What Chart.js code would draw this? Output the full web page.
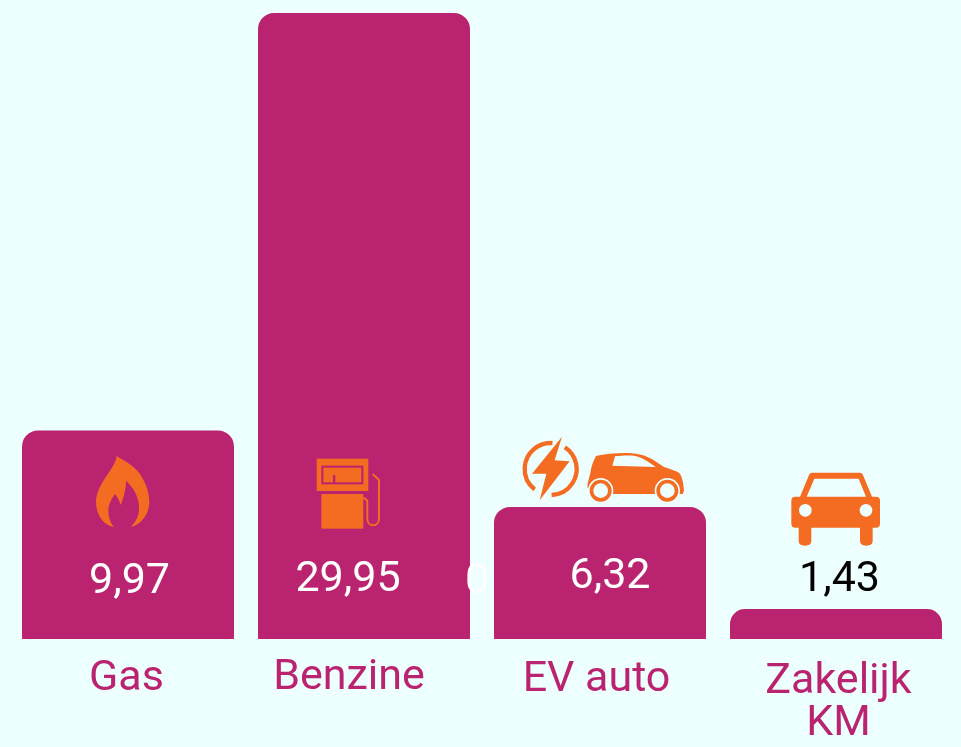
<!DOCTYPE html>
<html lang="nl">
<head>
    <meta charset="UTF-8">
    <title>Kosten per categorie</title>
    <script src="https://cdn.jsdelivr.net/npm/chart.js"></script>
    <style>
        html, body { margin: 0; padding: 0; background: #EEFFFF; overflow: hidden; }
        .chart-container { position: relative; width: 961px; height: 747px; }
    </style>
</head>
<body>
    <div class="chart-container">
        <canvas id="kosten-chart"></canvas>
    </div>

    <script>
        // data
        const categories = ['Gas', 'Benzine', 'EV auto', ['Zakelijk', 'KM']];
        const values = [9.97, 29.95, 6.32, 1.43];
        const strayLabel = '0';

        const pink = '#B9236F';
        const orange = '#F36C21';
        const pale = '#EEFFFF';
        const labelFont = '43px Roboto';

        // label placement, relative to bar centre and axis baseline
        const valueOffsets = [[1.5, -46], [-16, -48], [10, -51], [3.5, -48]];
        const valueColors = ['#FFFFFF', '#FFFFFF', '#FFFFFF', '#000000'];
        const tickOffsets = [[-1.5, 51], [-15, 50], [-3.5, 51.5], [2.5, 54]];
        const tickLineHeight = 42;

        // icons are drawn in 3x units, same as a zoomed crop of the picture
        function flame(ctx) {
            ctx.fillStyle = orange;
            ctx.fill(new Path2D('M80,18 C100,32 135,45 155,80 C170,105 178,130 178,155 C178,195 150,225 122,231 C142,212 150,190 146,160 C142,130 125,108 108,92 C108,120 100,145 92,165 C88,152 82,140 75,132 C62,150 55,165 55,180 C55,202 62,220 72,231 C40,225 18,195 18,155 C18,125 38,95 55,70 C68,50 78,35 80,18 Z'));
        }

        function pump(ctx) {
            ctx.fillStyle = orange;
            ctx.fillRect(20, 20, 155, 97);
            ctx.fillRect(34, 126, 126, 104);
            ctx.strokeStyle = pink;
            ctx.lineWidth = 6;
            ctx.strokeRect(37, 44, 120, 50);
            ctx.fillStyle = pink;
            ctx.fillRect(69, 69, 7, 26);
            ctx.strokeStyle = orange;
            ctx.lineWidth = 6;
            ctx.stroke(new Path2D('M188,66 L207,84 L207,200 C207,226 172,226 172,200 L172,152 C172,144 168,140 160,138'));
        }

        function bolt(ctx) {
            ctx.strokeStyle = orange;
            ctx.fillStyle = orange;
            ctx.lineWidth = 13;
            ctx.beginPath();
            ctx.arc(98, 111, 78, -86 * Math.PI / 180, 128 * Math.PI / 180, true);
            ctx.stroke();
            ctx.beginPath();
            ctx.arc(98, 111, 78, -57 * Math.PI / 180, 88 * Math.PI / 180);
            ctx.stroke();
            ctx.fill(new Path2D('M132,14 L110,85 L155,88 L65,205 L85,125 L42,125 Z'));
        }

        function wheel(ctx, cx, cy) {
            [[38, pale], [33, orange], [22, pale]].forEach(([r, color]) => {
                ctx.fillStyle = color;
                ctx.beginPath();
                ctx.arc(cx, cy, r, 0, Math.PI * 2);
                ctx.fill();
            });
        }

        function evCar(ctx) {
            ctx.fillStyle = orange;
            ctx.fill(new Path2D('M10,118 C10,100 18,85 20,70 C22,55 28,38 36,24 C60,18 90,15 125,15 C160,15 185,22 205,34 L240,57 C260,64 275,68 285,74 C295,84 298,105 300,128 L296,138 L30,138 Z'));
            ctx.fillStyle = pale;
            ctx.fill(new Path2D('M93,25 C115,22 135,22 150,23 C175,28 195,42 215,57 L85,53 Z'));
            wheel(ctx, 50, 128);
            wheel(ctx, 250, 128);
        }

        function car(ctx) {
            ctx.fillStyle = orange;
            ctx.fill(new Path2D('M78,20 L222,20 Q228,20 231,27 L258,92 L270,92 Q282,92 282,104 L282,173 Q282,185 270,185 L260,185 L260,225 Q260,239 241,239 Q222,239 222,225 L222,185 L76,185 L76,225 Q76,239 57,239 Q38,239 38,225 L38,185 L28,185 Q16,185 16,173 L16,104 Q16,92 28,92 L42,92 L69,27 Q72,20 78,20 Z'));
            ctx.fillStyle = pale;
            ctx.fill(new Path2D('M85,38 L218,38 L240,92 L62,92 Z'));
            [58, 240].forEach(cx => {
                ctx.beginPath();
                ctx.arc(cx, 133, 19, 0, Math.PI * 2);
                ctx.fill();
            });
        }

        // index of the bar, offset of the icon's box from bar centre / baseline
        const icons = [
            { bar: 0, dx: -38, dy: -189, draw: flame },
            { bar: 1, dx: -54, dy: -187, draw: pump },
            { bar: 2, dx: -82, dy: -207, draw: bolt },
            { bar: 2, dx: -16, dy: -191, draw: evCar },
            { bar: 3, dx: -50, dy: -173, draw: car }
        ];

        const annotations = {
            id: 'annotations',
            afterDatasetsDraw(chart) {
                const ctx = chart.ctx;
                const xScale = chart.scales.x;
                const base = chart.scales.y.getPixelForValue(0);

                icons.forEach(icon => {
                    ctx.save();
                    ctx.translate(xScale.getPixelForValue(icon.bar) + icon.dx, base + icon.dy);
                    ctx.scale(1 / 3, 1 / 3);
                    icon.draw(ctx);
                    ctx.restore();
                });

                ctx.save();
                ctx.font = labelFont;
                ctx.textAlign = 'center';
                ctx.textBaseline = 'alphabetic';

                values.forEach((value, i) => {
                    const x = xScale.getPixelForValue(i);
                    ctx.fillStyle = valueColors[i];
                    ctx.fillText(value.toFixed(2).replace('.', ','), x + valueOffsets[i][0], base + valueOffsets[i][1]);

                    const lines = [].concat(categories[i]);
                    ctx.fillStyle = pink;
                    lines.forEach((line, n) => {
                        ctx.fillText(line, x + tickOffsets[i][0], base + tickOffsets[i][1] + n * tickLineHeight);
                    });
                });

                // leftover white label sitting in the gap after the second bar
                ctx.fillStyle = '#FFFFFF';
                ctx.fillText(strayLabel, xScale.getPixelForValue(1) + 113, base - 46);
                ctx.restore();
            }
        };

        new Chart(document.getElementById('kosten-chart').getContext('2d'), {
            type: 'bar',
            data: {
                labels: categories,
                datasets: [{
                    data: values,
                    backgroundColor: pink,
                    barPercentage: 212 / 236,
                    categoryPercentage: 1,
                    borderRadius: { topLeft: 16, topRight: 16, bottomLeft: 0, bottomRight: 0 },
                    borderSkipped: false
                }]
            },
            options: {
                responsive: true,
                maintainAspectRatio: false,
                animation: false,
                layout: { padding: { left: 10, right: 7, top: 13, bottom: 108 } },
                plugins: {
                    legend: { display: false },
                    tooltip: { enabled: false }
                },
                scales: {
                    x: { display: false },
                    y: { display: false, min: 0, max: 29.95 }
                }
            },
            plugins: [annotations]
        });
    </script>
</body>
</html>
